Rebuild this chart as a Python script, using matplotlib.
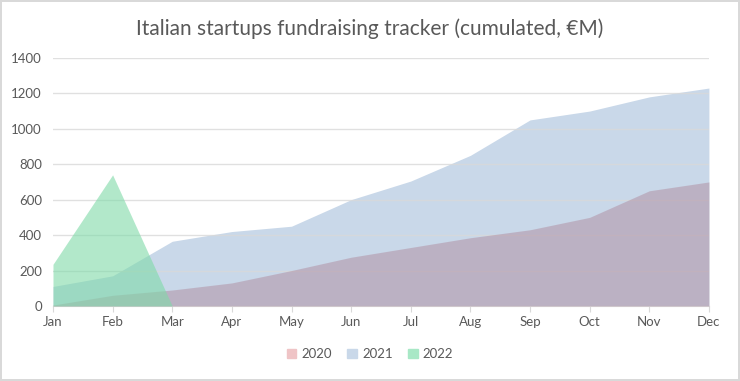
import matplotlib
matplotlib.use("Agg")
import matplotlib.pyplot as plt
import numpy as np
from matplotlib.patches import Patch

plt.rcParams['font.family'] = ['Lato', 'DejaVu Sans']

months = ['Jan', 'Feb', 'Mar', 'Apr', 'May', 'Jun', 'Jul', 'Aug', 'Sep', 'Oct', 'Nov', 'Dec']
y2020 = [5, 60, 90, 130, 200, 275, 330, 385, 430, 500, 650, 700]
y2021 = [110, 170, 365, 420, 450, 600, 705, 850, 1050, 1100, 1180, 1230]
y2022 = [235, 740, 0]

c2021 = '#c9d8e9'
c2022 = '#7fdaa8'

fig = plt.figure(figsize=(7.4, 3.81), dpi=100)
fig.patch.set_edgecolor('#d9d9d9')
fig.patch.set_linewidth(1.5)
ax = fig.add_axes([0.0716, 0.197, 0.8864, 0.651])

x = np.arange(len(months))
ax.fill_between(x, 0, y2021, color=c2021, lw=0, zorder=2)
ax.fill_between(x, 0, y2020, color='#af8c9f', alpha=0.5, lw=0, zorder=3)
x22 = np.arange(len(y2022))
ax.fill_between(x22, 0, y2022, color=c2022, alpha=0.6, lw=0, zorder=4)

ax.set_xlim(0, len(months) - 1)
ax.set_ylim(0, 1400)
ax.set_yticks(np.arange(0, 1401, 200))
ax.set_xticks(x)
ax.set_xticklabels(months)
ax.grid(axis='y', color='#d9d9d9', lw=1, alpha=0.8, zorder=5)
ax.set_axisbelow(False)
for s in ['top', 'right', 'left']:
    ax.spines[s].set_visible(False)
ax.spines['bottom'].set_color('#d9d9d9')
ax.tick_params(axis='y', length=0, labelsize=9.5, labelcolor='#595959', pad=8)
ax.tick_params(axis='x', length=4, color='#d9d9d9', labelsize=9.5, labelcolor='#595959')

fig.text(0.5, 0.925, 'Italian startups fundraising tracker (cumulated, €M)',
         ha='center', va='center', fontsize=15, color='#595959')

handles = [Patch(color='#efc4c6', label='2020'),
           Patch(color=c2021, label='2021'),
           Patch(color='#a8e8c6', label='2022')]
fig.legend(handles=handles, loc='center', bbox_to_anchor=(0.5, 0.07), ncol=3,
           frameon=False, fontsize=9.5, handlelength=0.7, handleheight=0.7,
           handletextpad=0.4, columnspacing=1.2, labelcolor='#595959')

fig.savefig('out.png', dpi=100)
